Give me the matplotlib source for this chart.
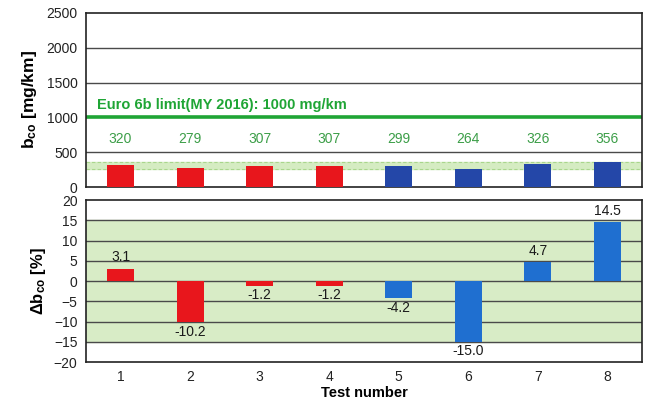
import matplotlib
matplotlib.use("Agg")
import matplotlib.pyplot as plt
import numpy as np

plt.rcParams['font.family'] = ['Liberation Sans', 'DejaVu Sans']
plt.rcParams['mathtext.fontset'] = 'custom'
plt.rcParams['mathtext.rm'] = 'Liberation Sans'
plt.rcParams['mathtext.bf'] = 'Liberation Sans:bold'

tests = [1, 2, 3, 4, 5, 6, 7, 8]
bco = [320, 279, 307, 307, 299, 264, 326, 356]
dbco = [3.1, -10.2, -1.2, -1.2, -4.2, -15.0, 4.7, 14.5]
group = ['r', 'r', 'r', 'r', 'b', 'b', 'b', 'b']
euro_limit = 1000
band_top = (263.5, 356.5)
band_pct = 15

red = '#e8161c'
blue_top = '#2447a8'
blue_bot = '#1f6fd0'
green = '#1fa535'
green_text = '#3c9e48'
grid_c = '#4a4a4a'

fig = plt.figure(figsize=(6.5, 4.05), dpi=100)
ax1 = fig.add_axes([0.132, 0.538, 0.856, 0.430])
ax2 = fig.add_axes([0.132, 0.106, 0.856, 0.400])

x = np.array(tests)
w = 0.39

# upper panel: absolute emissions
ax1.axhspan(band_top[0], band_top[1], color='#d5ecc2', zorder=0)
for yb in band_top:
    ax1.axhline(yb, color='#a9d68c', lw=0.8, ls=(0, (3, 2)), zorder=1)
for yg in [500, 1500, 2000]:
    ax1.axhline(yg, color=grid_c, lw=1.0, zorder=1)
ax1.axhline(euro_limit, color=green, lw=2.6, zorder=2)
cols_top = [red if g == 'r' else blue_top for g in group]
ax1.bar(x, bco, width=w, color=cols_top, zorder=3)
for xi, v in zip(x, bco):
    ax1.text(xi, 690, f"{v}", ha='center', va='center', color=green_text, fontsize=10)
ax1.text(0.66, 1180, f"Euro 6b limit(MY 2016): {euro_limit} mg/km", ha='left', va='center',
         color=green, fontsize=10.5, fontweight='bold')
ax1.set_xlim(0.5, 8.5)
ax1.set_ylim(0, 2500)
ax1.set_yticks([0, 500, 1000, 1500, 2000, 2500])
ax1.set_xticks([])
ax1.set_ylabel(r"$\mathbf{b_{co}}$ [mg/km]", fontsize=12.5, fontweight='bold', labelpad=5)

# lower panel: relative deviation
ax2.axhspan(-band_pct, band_pct, color='#d8ecc6', zorder=0)
for yg in [-15, -10, -5, 0, 5, 10, 15]:
    ax2.axhline(yg, color=grid_c, lw=1.0, zorder=1)
cols_bot = [red if g == 'r' else blue_bot for g in group]
ax2.bar(x, dbco, width=w, color=cols_bot, zorder=3)
for xi, v in zip(x, dbco):
    if v >= 0:
        ax2.text(xi, v + 1.0, f"{v:.1f}", ha='center', va='bottom', color='#1a1a1a', fontsize=10)
    else:
        ax2.text(xi, v - 0.6, f"{v:.1f}", ha='center', va='top', color='#1a1a1a', fontsize=10)
ax2.set_xlim(0.5, 8.5)
ax2.set_ylim(-20, 20)
ax2.set_yticks(np.arange(-20, 21, 5))
ax2.set_xticks(x)
ax2.set_xticklabels([str(t) for t in tests])
ax2.set_ylabel(r"$\mathbf{\Delta b_{co}}$ [%]", fontsize=12, fontweight='bold', labelpad=4)
ax2.set_xlabel("Test number", fontsize=10.5, fontweight='bold', labelpad=1)

for ax in (ax1, ax2):
    for s in ax.spines.values():
        s.set_color('#222222')
        s.set_linewidth(1.2)
    ax.tick_params(length=0, labelsize=10, colors='#222222', pad=6)

fig.savefig("out.png", dpi=100)
